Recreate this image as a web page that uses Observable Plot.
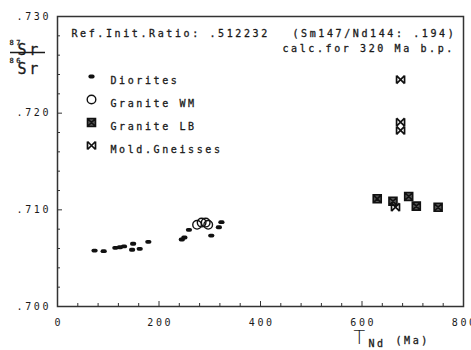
<!DOCTYPE html>
<html><head><meta charset="utf-8">
<script src="https://cdn.jsdelivr.net/npm/d3@7"></script>
<script src="https://cdn.jsdelivr.net/npm/@observablehq/plot@0.6"></script>
<style>
body{margin:0;background:#fff}
svg text{letter-spacing:2.6px}
</style></head><body><div id="chart"></div>
<script>
// ---- data (T_Nd in Ma, 87Sr/86Sr) ----
const seriesNames = ["Diorites", "Granite WM", "Granite LB", "Mold.Gneisses"];
const dioritesT  = [73, 91, 114, 123, 131, 147, 149, 162, 179, 245, 250, 259, 303, 318, 323];
const dioritesSr = [0.70579, 0.70572, 0.70607, 0.70613, 0.70621, 0.70587, 0.70649, 0.70597, 0.70669, 0.70693, 0.70714, 0.70793, 0.70734, 0.70820, 0.70872];
const graniteWMT  = [275, 284, 292, 297];
const graniteWMSr = [0.70845, 0.70868, 0.70868, 0.70845];
const graniteLBT  = [630, 661, 692, 707, 750];
const graniteLBSr = [0.71114, 0.71089, 0.71138, 0.71038, 0.71027];
const gneissT  = [676, 676, 676, 666];
const gneissSr = [0.72348, 0.71907, 0.71821, 0.71027];

const xMajor = [0, 200, 400, 600, 800];
const xMinor = d3.range(40, 800, 40).filter(v => v % 200 !== 0);
const yMajor = [0.700, 0.710, 0.720, 0.730];
const yMinor = d3.range(0, 31, 2).map(v => 0.700 + v / 1000).filter((v, i) => i % 5 !== 0);

const header1 = "Ref.Init.Ratio: .512232";
const header2 = "(Sm147/Nd144: .194)";
const header3 = "calc.for 320 Ma b.p.";

// ---- symbols ----
const capsule = {draw(c, size) { const h = 1.9, w = 1.2;
  c.moveTo(-w, -h); c.lineTo(w, -h); c.arc(w, 0, h, -Math.PI/2, Math.PI/2);
  c.lineTo(-w, h); c.arc(-w, 0, h, Math.PI/2, 3*Math.PI/2); c.closePath(); }};
const squareX = {draw(c, size) { const s = 4;
  c.rect(-s, -s, 2*s, 2*s); c.moveTo(-s, -s); c.lineTo(s, s); c.moveTo(s, -s); c.lineTo(-s, s); }};
const bowtie = {draw(c, size) { const s = 4;
  c.moveTo(-s, -s); c.lineTo(s, s); c.moveTo(s, -s); c.lineTo(-s, s);
  c.moveTo(-s, -s); c.lineTo(-s, s); c.moveTo(s, -s); c.lineTo(s, s); }};

const styles = [
  {symbol: capsule, fill: "#111", stroke: "none"},
  {symbol: "circle", r: 4.3, fill: "none", stroke: "#111", strokeWidth: 1.4},
  {symbol: squareX, fill: "#555", stroke: "#111", strokeWidth: 1.6},
  {symbol: bowtie, fill: "none", stroke: "#111", strokeWidth: 1.7}
];
const seriesT = [dioritesT, graniteWMT, graniteLBT, gneissT];
const seriesSr = [dioritesSr, graniteWMSr, graniteLBSr, gneissSr];

const W = 471, H = 350, mL = 57, mR = 8, mT = 16, mB = 44;
const pw = W - mL - mR, ph = H - mT - mB;

const ink = "#1a1a1a";
const txt = (s, o) => Plot.text([s], {text: d => d, frameAnchor: "top-left", textAnchor: "start", fill: ink, stroke: ink, strokeWidth: 0.3, ...o});

const marks = [
  Plot.frame({stroke: "#333", strokeWidth: 1.5}),
  Plot.ruleX(xMinor, {x: d => d, insetTop: ph - 3, stroke: "#333"}),
  Plot.ruleX(xMajor, {x: d => d, insetTop: ph - 5, stroke: "#333"}),
  Plot.ruleY(yMinor, {y: d => d, insetRight: pw - 3, stroke: "#333"}),
  Plot.ruleY(yMajor, {y: d => d, insetRight: pw - 5, stroke: "#333"}),
  Plot.axisX({ticks: xMajor, tickSize: 0, tickPadding: 12, label: null, dx: 1.3, fill: ink, stroke: ink, strokeWidth: 0.3}),
  Plot.axisY({ticks: yMajor, tickSize: 0, tickPadding: 6.5, label: null, tickFormat: d => d3.format(".3f")(d).slice(1), fill: ink, stroke: ink, strokeWidth: 0.3}),
  ...seriesT.map((ts, i) => Plot.dot(ts.map((t, j) => ({t, sr: seriesSr[i][j]})), {x: "t", y: "sr", ...styles[i]})),
  ...seriesNames.map((n, i) => Plot.dot([n], {x: null, y: null, frameAnchor: "top-left", dx: 34, dy: 60 + 23 * i, ...styles[i]})),
  ...seriesNames.map((n, i) => txt(n, {dx: 53, dy: 60 + 23 * i})),
  txt(header1, {dx: 14, dy: 13}),
  txt(header2, {dx: 235, dy: 13}),
  txt(header3, {dx: 225, dy: 28}),
  // y label 87Sr / 86Sr
  txt("87", {dx: -48, dy: 24, fontSize: 7, letterSpacing: 0}),
  txt("Sr", {dx: -40, dy: 27.5, fontSize: 15, letterSpacing: 4}),
  txt("86", {dx: -48, dy: 41.5, fontSize: 7, letterSpacing: 0}),
  txt("Sr", {dx: -40, dy: 46.5, fontSize: 15, letterSpacing: 4}),
  // x label
  Plot.text(["T"], {text: d => d, frameAnchor: "bottom-left", textAnchor: "start", dx: 296, dy: 37, fontSize: 19, fontFamily: "DejaVu Sans", fontWeight: 200, fill: ink}),
  txt("Nd", {frameAnchor: "bottom-left", dx: 311, dy: 40}),
  txt("(Ma)", {frameAnchor: "bottom-left", dx: 338, dy: 37})
];

const chart = Plot.plot({
  width: W, height: H,
  marginLeft: mL, marginRight: mR, marginTop: mT, marginBottom: mB,
  x: {domain: [0, 800]},
  y: {domain: [0.700, 0.730]},
  style: {fontFamily: "'DejaVu Sans Mono', monospace", fontSize: "10px", background: "#fff", overflow: "visible"},
  marks
});
document.getElementById("chart").append(chart);
// fraction bar of the y label
d3.select(chart).append("line").attr("x1", 10).attr("x2", 45).attr("y1", 52.5).attr("y2", 52.5).attr("stroke", ink).attr("stroke-width", 1.5);
</script></body></html>
